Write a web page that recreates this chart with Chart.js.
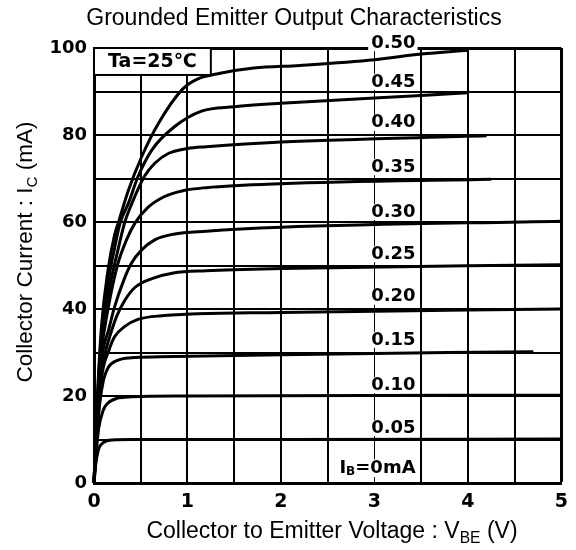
<!DOCTYPE html>
<html>
<head>
<meta charset="utf-8">
<script src="https://cdn.jsdelivr.net/npm/chart.js@4.4.1/dist/chart.umd.min.js"></script>
<style>
    html, body { margin: 0; padding: 0; background: #fff; }
    canvas { display: block; }
</style>
</head>
<body>
<canvas id="chart" width="576" height="550"></canvas>
<script>
// base current for each curve (mA)
var baseCurrents = ['0.50', '0.45', '0.40', '0.35', '0.30', '0.25', '0.20', '0.15', '0.10', '0.05'];

// [Vce (V), Ic (mA)]
var ib050 = [[0,0],[0.03,17],[0.08,36],[0.15,49],[0.22,57],[0.27,60.5],[0.37,67.4],[0.51,75],[0.69,82.7],[0.95,90.6],[1.1,92.8],[1.35,94.2],[1.71,95.4],[2.2,96],[3,97.3],[3.5,98.6],[4,99.5]];
var ib045 = [[0,0],[0.03,16],[0.08,34],[0.15,46],[0.22,54],[0.28,59.8],[0.37,64.4],[0.47,70.4],[0.62,76.6],[0.86,81.9],[1.15,85.5],[1.5,86.5],[2,87.3],[3,88.5],[4,89.7]];
var ib040 = [[0,0],[0.03,15],[0.08,32],[0.15,43],[0.25,53],[0.33,60],[0.4,64],[0.47,67.5],[0.54,70.5],[0.65,73.5],[0.8,75.8],[1,76.9],[1.2,77.3],[2,78.4],[4.2,79.8]];
var ib035 = [[0,0],[0.03,14],[0.08,30],[0.15,40],[0.25,50],[0.35,56],[0.44,59.8],[0.58,63.4],[0.75,65.8],[0.95,67.2],[1.2,67.9],[2,68.8],[4.25,69.8]];
var ib030 = [[0,0],[0.03,13],[0.08,28],[0.16,35.5],[0.22,40.5],[0.32,46.7],[0.4,50.5],[0.51,53.6],[0.65,55.9],[0.85,57.2],[1.2,57.9],[2,58.8],[5,60.2]];
var ib025 = [[0,0],[0.03,12],[0.08,26],[0.12,30],[0.17,33.8],[0.24,38.2],[0.33,42],[0.44,45],[0.62,47],[0.85,48.3],[1.2,48.8],[2,49.3],[5,50.2]];
var ib020 = [[0,0],[0.03,11],[0.08,24],[0.16,30.5],[0.22,33.6],[0.33,36],[0.47,37.6],[0.7,38.4],[2,39.2],[5,40]];
var ib015 = [[0,0],[0.03,10],[0.06,18],[0.1,23.5],[0.15,26.5],[0.25,28.2],[0.4,28.8],[0.7,29],[2,29.5],[4.7,30.2]];
var ib010 = [[0,0],[0.02,6],[0.05,12.5],[0.1,16.8],[0.15,18.4],[0.25,19.5],[0.4,19.8],[1,20],[5,20.2]];
var ib005 = [[0,0],[0.02,4.5],[0.05,7.8],[0.1,9.3],[0.2,9.9],[0.4,10],[2,10],[5,10.1]];

var curves = [ib050, ib045, ib040, ib035, ib030, ib025, ib020, ib015, ib010, ib005];

// where each curve's label sits (Ic, mA), right edge at Vce = 3.44
var labelIc = [101.1, 92.2, 82.8, 72.6, 62.3, 52.6, 42.8, 32.9, 22.5, 12.6];
var zeroLabelIc = 3.4;
var labelVce = 3.44;

var SANS = '"Liberation Sans", Arial, sans-serif';
var BOLD = 'bold 18px "DejaVu Sans", sans-serif';

function drawRich(ctx, parts, x, y, size, align) {
    var total = 0;
    parts.forEach(function (p) {
        ctx.font = (p.sub ? size * 0.68 : size) + 'px ' + SANS;
        p.w = ctx.measureText(p.t).width;
        total += p.w;
    });
    var cx = align === 'center' ? x - total / 2 : x;
    parts.forEach(function (p) {
        ctx.font = (p.sub ? size * 0.68 : size) + 'px ' + SANS;
        ctx.fillText(p.t, cx, p.sub ? y + size * 0.22 : y);
        cx += p.w;
    });
}

var annotations = {
    id: 'annotations',
    afterDatasetsDraw: function (chart) {
        var ctx = chart.ctx, xs = chart.scales.x, ys = chart.scales.y;
        ctx.save();
        ctx.font = BOLD;
        ctx.textAlign = 'right';
        ctx.textBaseline = 'middle';
        var rx = xs.getPixelForValue(labelVce);
        baseCurrents.forEach(function (lbl, i) {
            var py = ys.getPixelForValue(labelIc[i]);
            var w = ctx.measureText(lbl).width;
            ctx.fillStyle = '#fff';
            ctx.fillRect(rx - w - 3, py - 8, w + 5, 16);
            ctx.fillStyle = '#000';
            ctx.fillText(lbl, rx, py);
        });

        // Ib = 0 label with subscript
        var pz = ys.getPixelForValue(zeroLabelIc);
        var pieces = [{ t: 'I', f: BOLD }, { t: 'B', f: 'bold 12px "DejaVu Sans", sans-serif', sub: true }, { t: '=0mA', f: BOLD }];
        var tw = 0;
        pieces.forEach(function (p) { ctx.font = p.f; p.w = ctx.measureText(p.t).width; tw += p.w; });
        ctx.fillStyle = '#fff';
        ctx.fillRect(rx - tw - 3, pz - 9, tw + 5, 18);
        ctx.fillStyle = '#000';
        ctx.textAlign = 'left';
        var cx = rx - tw;
        pieces.forEach(function (p) {
            ctx.font = p.f;
            ctx.fillText(p.t, cx, p.sub ? pz + 4 : pz);
            cx += p.w;
        });

        // Ta = 25 box
        var bx0 = xs.getPixelForValue(0), bx1 = xs.getPixelForValue(1.25);
        var by0 = ys.getPixelForValue(100), by1 = ys.getPixelForValue(93.8);
        ctx.fillStyle = '#fff';
        ctx.fillRect(bx0, by0, bx1 - bx0, by1 - by0);
        ctx.strokeStyle = '#000';
        ctx.lineWidth = 2;
        ctx.strokeRect(bx0, by0, bx1 - bx0, by1 - by0);
        ctx.fillStyle = '#000';
        ctx.font = 'bold 19px "DejaVu Sans", sans-serif';
        ctx.textAlign = 'center';
        ctx.fillText('Ta=25℃', (bx0 + bx1) / 2, (by0 + by1) / 2 + 1);
        ctx.restore();
    },
    afterDraw: function (chart) {
        var ctx = chart.ctx;
        ctx.save();
        ctx.fillStyle = '#000';
        ctx.textBaseline = 'alphabetic';
        ctx.textAlign = 'left';
        drawRich(ctx, [{ t: 'Grounded Emitter Output Characteristics' }], 294, 25, 23, 'center');
        drawRich(ctx, [{ t: 'Collector to Emitter Voltage : V' }, { t: 'BE', sub: true }, { t: ' (V)' }], 332, 538, 23, 'center');
        ctx.translate(32, 252);
        ctx.rotate(-Math.PI / 2);
        drawRich(ctx, [{ t: 'Collector Current : I' }, { t: 'C', sub: true }, { t: ' (mA)' }], 0, 0, 22.5, 'center');
        ctx.restore();
    }
};

new Chart(document.getElementById('chart'), {
    type: 'scatter',
    data: {
        datasets: curves.map(function (pts, i) {
            return {
                label: baseCurrents[i],
                data: pts.map(function (p) { return { x: p[0], y: p[1] }; }),
                showLine: true,
                borderColor: '#000',
                borderWidth: 3,
                pointRadius: 0,
                cubicInterpolationMode: 'monotone',
                clip: 4
            };
        })
    },
    options: {
        responsive: false,
        animation: false,
        layout: { padding: { top: 48, right: 13, left: 0, bottom: 0 } },
        plugins: { legend: { display: false }, title: { display: false }, tooltip: { enabled: false } },
        scales: {
            x: {
                type: 'linear',
                min: 0,
                max: 5,
                afterFit: function (s) { s.height = 67; },
                border: { display: true, width: 3, color: '#000' },
                grid: {
                    color: '#000',
                    drawTicks: false,
                    lineWidth: function (c) {
                        var v = c.tick ? c.tick.value : 0;
                        if (v === 5) return 3;
                        if (v === 3) return 1;
                        return 2;
                    }
                },
                ticks: {
                    stepSize: 0.5,
                    autoSkip: false,
                    maxRotation: 0,
                    padding: 8,
                    color: '#000',
                    font: { family: '"DejaVu Sans", sans-serif', weight: 'bold', size: 19 },
                    callback: function (v) { return Number.isInteger(v) ? String(v) : ''; }
                }
            },
            y: {
                type: 'linear',
                min: 0,
                max: 100,
                afterFit: function (s) { s.width = 94; },
                border: { display: true, width: 3, color: '#000' },
                grid: {
                    color: '#000',
                    drawTicks: false,
                    lineWidth: function (c) {
                        var v = c.tick ? c.tick.value : 0;
                        return v === 100 ? 3 : 2;
                    }
                },
                ticks: {
                    stepSize: 10,
                    autoSkip: false,
                    padding: 7,
                    color: '#000',
                    font: { family: '"DejaVu Sans", sans-serif', weight: 'bold', size: 18 },
                    callback: function (v) { return v % 20 === 0 ? String(v) : ''; }
                }
            }
        }
    },
    plugins: [annotations]
});
</script>
</body>
</html>
